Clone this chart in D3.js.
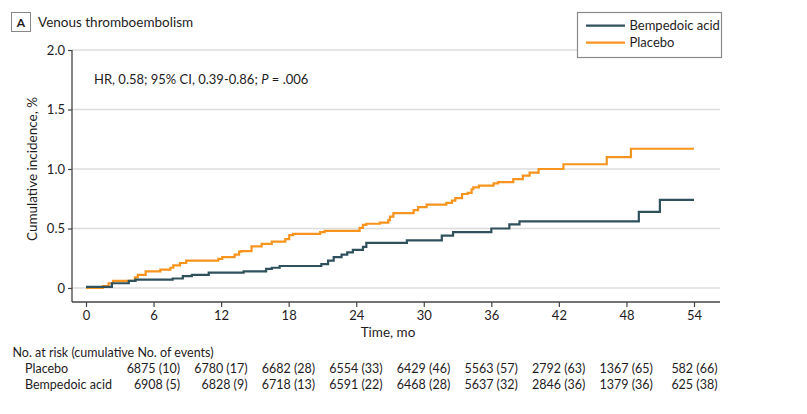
<!DOCTYPE html>
<html>
<head>
<meta charset="utf-8">
<script src="https://cdn.jsdelivr.net/npm/d3@7"></script>
<style>
  body { margin: 0; background: #fff; }
  svg text { font-family: Lato, "Open Sans", sans-serif; fill: #1f1c1d; }
</style>
</head>
<body>
<div id="chart"></div>
<script>
// step points: [month, cumulative incidence %]
var placeboSteps = [
    [0, 0], [1.5, 0.017], [2.0, 0.04], [2.4, 0.06], [4.35, 0.09], [4.6, 0.11],
    [5.3, 0.14], [6.6, 0.155], [7.5, 0.17], [7.75, 0.19], [8.35, 0.21], [8.9, 0.23],
    [11.75, 0.245], [12.1, 0.26], [13.2, 0.28], [13.6, 0.305], [13.8, 0.31],
    [14.7, 0.35], [15.6, 0.37], [16.5, 0.39], [17.7, 0.41], [18.05, 0.445],
    [18.4, 0.455], [20.8, 0.47], [21.2, 0.48], [24.3, 0.505], [24.6, 0.53],
    [24.9, 0.54], [26.1, 0.55], [26.85, 0.57], [27.0, 0.60], [27.3, 0.63],
    [29.1, 0.655], [29.5, 0.68], [30.25, 0.70], [32.0, 0.715], [32.5, 0.735],
    [32.8, 0.755], [33.4, 0.79], [33.9, 0.80], [34.25, 0.83], [34.4, 0.845],
    [34.9, 0.86], [36.2, 0.88], [36.6, 0.89], [37.95, 0.915], [38.8, 0.945],
    [39.4, 0.97], [40.2, 1.0], [42.4, 1.04], [46.25, 1.10], [48.4, 1.17], [54, 1.17]
];
var bempedoicSteps = [
    [0, 0.01], [2.3, 0.04], [3.8, 0.06], [4.4, 0.07], [7.7, 0.08], [8.6, 0.10],
    [9.4, 0.11], [10.9, 0.13], [14.0, 0.14], [16.0, 0.16], [16.5, 0.17],
    [17.2, 0.185], [20.9, 0.20], [21.5, 0.23], [22.0, 0.26], [22.7, 0.28],
    [23.2, 0.30], [23.7, 0.32], [24.6, 0.345], [24.9, 0.38], [28.5, 0.40],
    [31.6, 0.44], [32.6, 0.47], [36.0, 0.50], [37.6, 0.535], [38.5, 0.56],
    [49.1, 0.64], [50.97, 0.74], [54, 0.74]
];

var xTicks = [0, 6, 12, 18, 24, 30, 36, 42, 48, 54];
var yTicks = [0, 0.5, 1.0, 1.5, 2.0];
var yTickLabels = ["0", "0.5", "1.0", "1.5", "2.0"];

var riskTimes = [0, 6, 12, 18, 24, 30, 36, 42, 48];
var placeboRisk = ["6875 (10)", "6780 (17)", "6682 (28)", "6554 (33)", "6429 (46)",
    "5563 (57)", "2792 (63)", "1367 (65)", "582 (66)"];
var bempedoicRisk = ["6908 (5)", "6828 (9)", "6718 (13)", "6591 (22)", "6468 (28)",
    "5637 (32)", "2846 (36)", "1379 (36)", "625 (38)"];

var colors = {bempedoic: "#2e515c", placebo: "#f7941d"};

var width = 807, height = 414;
var plot = {left: 72, right: 720, top: 50, bottom: 302};

var svg = d3.select("#chart").append("svg")
    .attr("width", width)
    .attr("height", height);

var x = d3.scaleLinear().domain([0, 54]).range([86, 694]);
var y = d3.scaleLinear().domain([0, 2]).range([288, 50]);

// gridlines
svg.append("g").selectAll("line")
    .data(yTicks)
    .enter().append("line")
    .attr("x1", plot.left)
    .attr("x2", plot.right)
    .attr("y1", function (d) { return y(d); })
    .attr("y2", function (d) { return y(d); })
    .style("stroke", "#dcdcdc")
    .style("stroke-width", 1.3);

// axes
var yAxis = d3.axisLeft(y)
    .tickValues(yTicks)
    .tickFormat(function (d, i) { return yTickLabels[i]; })
    .tickSize(4)
    .tickPadding(3);
var yg = svg.append("g")
    .attr("transform", "translate(" + plot.left + ",0)")
    .call(yAxis);
yg.select(".domain").attr("d", "M0," + plot.top + "V" + plot.bottom);

var xAxis = d3.axisBottom(x)
    .tickValues(xTicks)
    .tickSize(5)
    .tickPadding(4);
var xg = svg.append("g")
    .attr("transform", "translate(0," + plot.bottom + ")")
    .call(xAxis);
xg.select(".domain").attr("d", "M" + plot.left + ",0H" + plot.right);

[yg, xg].forEach(function (g) {
    g.select(".domain").style("stroke", "#444").style("stroke-width", 1.3);
    g.selectAll(".tick line").style("stroke", "#444").style("stroke-width", 1.2);
    g.selectAll(".tick text").style("font-size", "13px").style("font-family", "Lato, sans-serif").style("fill", "#1f1c1d");
});

// curves
var line = d3.line()
    .x(function (d) { return x(d[0]); })
    .y(function (d) { return y(d[1]); })
    .curve(d3.curveStepAfter);

svg.append("path")
    .datum(placeboSteps)
    .attr("d", line)
    .style("fill", "none")
    .style("stroke", colors.placebo)
    .style("stroke-width", 2.2);

svg.append("path")
    .datum(bempedoicSteps)
    .attr("d", line)
    .style("fill", "none")
    .style("stroke", colors.bempedoic)
    .style("stroke-width", 2.2);

// axis titles
svg.append("text")
    .attr("x", 388)
    .attr("y", 337)
    .attr("text-anchor", "middle")
    .style("font-size", "13.5px")
    .text("Time, mo");

svg.append("text")
    .attr("transform", "translate(37," + 169 + ") rotate(-90)")
    .attr("text-anchor", "middle")
    .style("font-size", "13.5px")
    .text("Cumulative incidence, %");

// panel label and title
svg.append("rect")
    .attr("x", 11.5)
    .attr("y", 12.5)
    .attr("width", 19)
    .attr("height", 19)
    .style("fill", "none")
    .style("stroke", "#888")
    .style("stroke-width", 1);
svg.append("text")
    .attr("x", 21)
    .attr("y", 26.5)
    .attr("text-anchor", "middle")
    .style("font-size", "12px")
    .style("font-weight", "bold")
    .text("A");
svg.append("text")
    .attr("x", 38)
    .attr("y", 26.5)
    .style("font-size", "13.5px")
    .text("Venous thromboembolism");

// HR annotation
var hr = svg.append("text")
    .attr("x", 94)
    .attr("y", 84)
    .style("font-size", "13px");
hr.append("tspan").text("HR, 0.58; 95% CI, 0.39-0.86; ");
hr.append("tspan").style("font-style", "italic").text("P");
hr.append("tspan").text(" = .006");

// legend
var legend = svg.append("g");
legend.append("rect")
    .attr("x", 577.5)
    .attr("y", 12.5)
    .attr("width", 144)
    .attr("height", 45)
    .style("fill", "#fff")
    .style("stroke", "#8a8a8a")
    .style("stroke-width", 1.2);
var legendItems = [
    {name: "Bempedoic acid", color: colors.bempedoic},
    {name: "Placebo", color: colors.placebo}
];
legendItems.forEach(function (d, i) {
    var ly = 25.7 + i * 17;
    legend.append("line")
        .attr("x1", 586).attr("x2", 625)
        .attr("y1", ly).attr("y2", ly)
        .style("stroke", d.color)
        .style("stroke-width", 2.2);
    legend.append("text")
        .attr("x", 629.5)
        .attr("y", ly + 4.5)
        .style("font-size", "13px")
        .text(d.name);
});

// risk table
svg.append("text")
    .attr("x", 12.5)
    .attr("y", 357)
    .style("font-size", "12.5px")
    .text("No. at risk (cumulative No. of events)");

var rows = [
    {name: "Placebo", values: placeboRisk, y: 373},
    {name: "Bempedoic acid", values: bempedoicRisk, y: 388.5}
];
rows.forEach(function (r) {
    svg.append("text")
        .attr("x", 25)
        .attr("y", r.y)
        .style("font-size", "12.5px")
        .text(r.name);
    svg.append("g").selectAll("text")
        .data(r.values)
        .enter().append("text")
        .attr("x", function (d, i) { return Math.min(x(riskTimes[i]) + 94, 717.5); })
        .attr("y", r.y)
        .attr("text-anchor", "end")
        .style("font-size", "12.5px")
        .text(function (d) { return d; });
});
</script>
</body>
</html>
